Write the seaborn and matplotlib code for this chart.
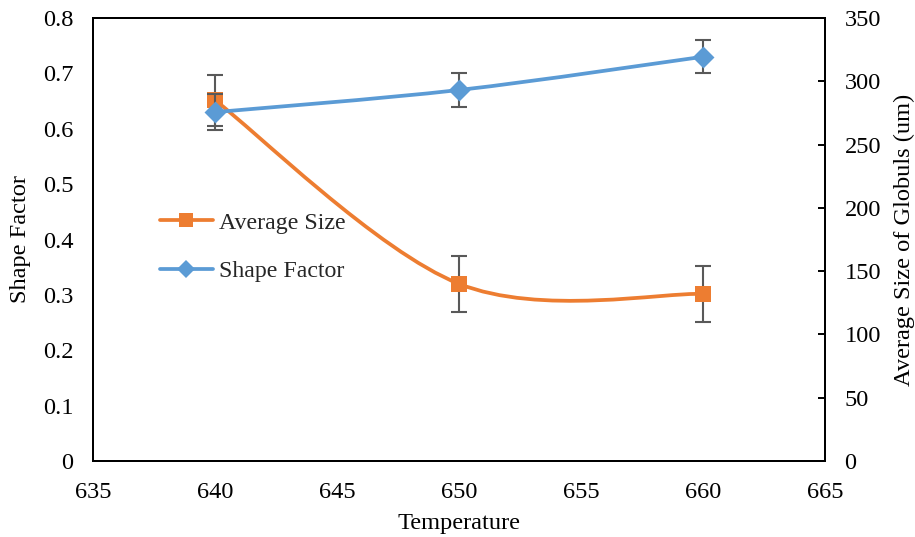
import numpy as np
import matplotlib
matplotlib.use("Agg")
import matplotlib.pyplot as plt
import seaborn as sns
import pandas as pd
from matplotlib.path import Path
from matplotlib.patches import PathPatch
from matplotlib.transforms import IdentityTransform
from matplotlib.lines import Line2D

temperature = [640, 650, 660]
shape_factor = [0.63, 0.67, 0.73]
shape_err = [0.032, 0.03, 0.03]
avg_size = [285, 140, 132]
size_err = [20, 22, 22]
x_ticks = [635, 640, 645, 650, 655, 660, 665]
left_ticks = [0, 0.1, 0.2, 0.3, 0.4, 0.5, 0.6, 0.7, 0.8]
right_ticks = [0, 50, 100, 150, 200, 250, 300, 350]

ORANGE = "#ED7D31"
BLUE = "#5B9BD5"
ERR = "#595959"
FS = 17.6

sns.set_theme(style="white")
plt.rcParams["font.family"] = ["Liberation Serif", "DejaVu Serif"]
plt.rcParams["font.size"] = FS

df = pd.DataFrame({"Temperature": temperature, "Shape Factor": shape_factor,
                   "Average Size": avg_size})

fig = plt.figure(figsize=(9.15, 5.37), dpi=100)
ax = fig.add_axes([93 / 915, 1 - 461 / 537, (825 - 93) / 915, (461 - 18) / 537])
ax2 = ax.twinx()
ax.set_zorder(ax2.get_zorder() + 1)
ax.patch.set_visible(False)

ax.set_xlim(635, 665)
ax.set_ylim(0, 0.8)
ax2.set_ylim(0, 350)
ax.set_xticks(x_ticks)
ax.set_yticks(left_ticks)
ax.set_yticklabels(["0" if v == 0 else f"{v:.1f}" for v in left_ticks])
ax2.set_yticks(right_ticks)


def smooth_path(axis, xs, ys):
    pts = axis.transData.transform(np.column_stack([xs, ys]))
    n = len(pts)
    verts = [pts[0]]
    codes = [Path.MOVETO]
    for i in range(n - 1):
        p_prev = pts[i - 1] if i > 0 else pts[i]
        p_next2 = pts[i + 2] if i + 2 < n else pts[i + 1]
        c1 = pts[i] + (pts[i + 1] - p_prev) / 6.0
        c2 = pts[i + 1] - (p_next2 - pts[i]) / 6.0
        verts += [c1, c2, pts[i + 1]]
        codes += [Path.CURVE4] * 3
    return Path(verts, codes)


# orange: average size on right axis
ax2.errorbar(temperature, avg_size, yerr=size_err, fmt="none", ecolor=ERR,
             elinewidth=1.5, capsize=6, capthick=1.5, zorder=2)
ax2.add_patch(PathPatch(smooth_path(ax2, temperature, avg_size), facecolor="none",
                        edgecolor=ORANGE, lw=2.7, transform=IdentityTransform(),
                        zorder=3, capstyle="round"))
sns.scatterplot(data=df, x="Temperature", y="Average Size", ax=ax2, marker="s",
                s=140, color=ORANGE, edgecolor=ORANGE, linewidth=0, zorder=4,
                legend=False)

# blue: shape factor on left axis
ax.errorbar(temperature, shape_factor, yerr=shape_err, fmt="none", ecolor=ERR,
            elinewidth=1.5, capsize=6, capthick=1.5, zorder=2)
ax.add_patch(PathPatch(smooth_path(ax, temperature, shape_factor), facecolor="none",
                       edgecolor=BLUE, lw=2.7, transform=IdentityTransform(),
                       zorder=3, capstyle="round"))
sns.scatterplot(data=df, x="Temperature", y="Shape Factor", ax=ax, marker="D",
                s=125, color=BLUE, edgecolor=BLUE, linewidth=0, zorder=4,
                legend=False)

ax.set_xlim(635, 665)
ax.set_ylim(0, 0.8)
ax2.set_ylim(0, 350)

for a in (ax, ax2):
    for s in a.spines.values():
        s.set_color("black")
        s.set_linewidth(1.4)
        s.set_visible(True)

ax.tick_params(axis="x", length=0, pad=15, labelsize=FS, colors="black")
ax.tick_params(axis="y", length=0, pad=14, labelsize=FS, colors="black")
ax2.tick_params(axis="y", direction="in", length=5, width=1.4, pad=14,
                labelsize=FS, colors="black", right=True, left=False)

ax.set_xlabel("Temperature", fontsize=FS, color="black")
ax.xaxis.set_label_coords(0.5, (461 - 523) / 443)
ax.xaxis.label.set_va("center")
ax.set_ylabel("Shape Factor", fontsize=FS, color="black")
ax.yaxis.set_label_coords((21 - 93) / 732, 0.5)
ax.yaxis.label.set_va("center")
ax2.set_ylabel("Average Size of Globuls (um)", fontsize=FS, color="black",
               rotation=90)
ax2.yaxis.set_label_position("right")
ax2.yaxis.set_label_coords((904 - 93) / 732, 0.5)
ax2.yaxis.label.set_va("center")

handles = [
    Line2D([0], [0], color=ORANGE, lw=2.7, marker="s", markersize=10.5,
           markeredgewidth=0),
    Line2D([0], [0], color=BLUE, lw=2.7, marker="D", markersize=9.5,
           markeredgewidth=0),
]
fig.legend(handles, ["Average Size", "Shape Factor"], loc="center left",
           bbox_to_anchor=(160 / 915, 1 - 247 / 537), frameon=False,
           borderpad=0, borderaxespad=0, handlelength=2.2, handletextpad=0.25,
           labelspacing=1.1, fontsize=17.2)

fig.savefig("out.png", dpi=100)
